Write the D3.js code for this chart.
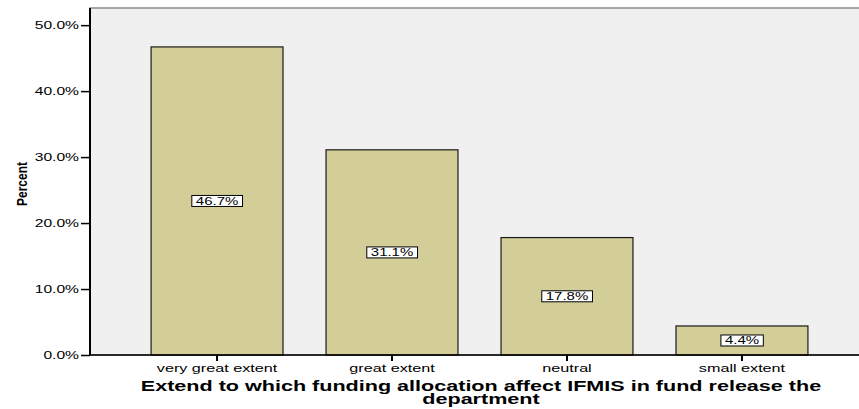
<!DOCTYPE html>
<html>
<head>
<meta charset="utf-8">
<script src="https://cdn.jsdelivr.net/npm/d3@7"></script>
<style>
  html, body { margin: 0; padding: 0; background: #fff; }
  svg { display: block; }
  text { font-family: "Liberation Sans", Arial, sans-serif; fill: #000; }
</style>
</head>
<body>
<svg id="chart" width="859" height="409"></svg>
<script>
// Survey responses: share of respondents per answer
const categories = ["very great extent", "great extent", "neutral", "small extent"];
const percents = [46.7, 31.1, 17.8, 4.4];
const yTicks = [0, 10, 20, 30, 40, 50];
const xTitleLines = ["Extend to which funding allocation affect IFMIS in fund release the", "department"];
const yTitle = "Percent";

const svg = d3.select("#chart");
const plot = { left: 90, right: 869, top: 8, bottom: 355 };

const x = d3.scaleBand()
  .domain(categories)
  .range([plot.left, plot.right])
  .paddingInner(0.246)
  .paddingOuter(0.349);

const y = d3.scaleLinear()
  .domain([0, 52.6])
  .range([plot.bottom, plot.top]);

// widen text horizontally by a factor, keeping its anchor
function widen(sel, k) {
  sel.each(function () {
    const w = this.getComputedTextLength();
    d3.select(this).attr("textLength", w * k).attr("lengthAdjust", "spacingAndGlyphs");
  });
}

// plot background
svg.append("rect")
  .attr("x", plot.left).attr("y", plot.top)
  .attr("width", plot.right - plot.left).attr("height", plot.bottom - plot.top)
  .attr("fill", "#f0f0f0")
  .attr("stroke", "#8a8a8a").attr("stroke-width", 1.5);

// bars
svg.append("g").selectAll("rect")
  .data(categories)
  .join("rect")
  .attr("x", d => x(d))
  .attr("y", (d, i) => y(percents[i]))
  .attr("width", x.bandwidth())
  .attr("height", (d, i) => y(0) - y(percents[i]))
  .attr("fill", "#d3ce98")
  .attr("stroke", "#1a1a1a")
  .attr("stroke-width", 1.2);

// value labels in the middle of each bar
const labels = svg.append("g").selectAll("g")
  .data(categories)
  .join("g")
  .attr("transform", (d, i) => `translate(${x(d) + x.bandwidth() / 2},${y(percents[i] / 2)})`);
labels.append("text")
  .attr("text-anchor", "middle")
  .attr("dy", "0.36em")
  .style("font-size", "11px")
  .text((d, i) => d3.format(".1f")(percents[i]) + "%")
  .call(widen, 1.36);
labels.each(function () {
  const g = d3.select(this);
  const bb = g.select("text").node().getBBox();
  g.insert("rect", "text")
    .attr("x", bb.x - 4).attr("y", -5.5)
    .attr("width", bb.width + 8).attr("height", 11)
    .attr("fill", "#fff").attr("stroke", "#000").attr("stroke-width", 1);
});

// y axis
const yAxis = svg.append("g")
  .attr("transform", `translate(${plot.left},0)`)
  .call(d3.axisLeft(y).tickValues(yTicks).tickSize(9).tickPadding(2)
    .tickFormat(d => d3.format(".1f")(d) + "%"));
yAxis.select(".domain").attr("stroke", "#000").attr("stroke-width", 2)
  .attr("d", `M0,${plot.top}V${plot.bottom}`);
yAxis.selectAll(".tick line").attr("stroke", "#000").attr("stroke-width", 1.5);
yAxis.selectAll(".tick text")
  .style("font-size", "11px")
  .style("font-family", "'Liberation Sans', Arial, sans-serif").attr("fill", "#000")
  .call(widen, 1.42);

// x axis
const xAxis = svg.append("g")
  .attr("transform", `translate(0,${plot.bottom})`)
  .call(d3.axisBottom(x).tickSize(6).tickPadding(4));
xAxis.select(".domain").attr("stroke", "#000").attr("stroke-width", 1.5)
  .attr("d", `M${plot.left},0H${plot.right}`);
xAxis.selectAll(".tick line").attr("stroke", "#000").attr("stroke-width", 2);
xAxis.selectAll(".tick text")
  .style("font-size", "10.5px")
  .style("font-family", "'Liberation Sans', Arial, sans-serif").attr("fill", "#000")
  .call(widen, 1.54);

// axis titles
svg.append("text")
  .attr("transform", "translate(27,184) scale(1.25,1) rotate(-90)")
  .attr("text-anchor", "middle")
  .style("font-size", "12px").style("font-weight", "bold")
  .text(yTitle);

svg.append("g").selectAll("text")
  .data(xTitleLines)
  .join("text")
  .attr("x", 481)
  .attr("y", (d, i) => 391 + i * 13)
  .attr("text-anchor", "middle")
  .style("font-size", "14px").style("font-weight", "bold")
  .text(d => d)
  .call(widen, 1.54);
</script>
</body>
</html>
